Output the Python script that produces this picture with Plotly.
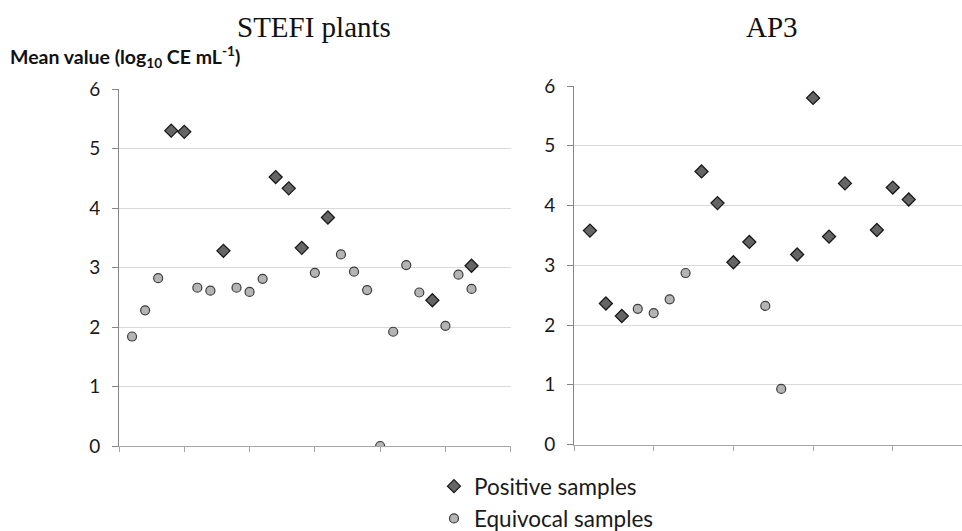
import plotly.graph_objects as go

# ---- data ----
stefi_pos_x = [4, 5, 8, 12, 13, 14, 16, 24, 27]
stefi_pos_y = [5.30, 5.28, 3.28, 4.52, 4.33, 3.33, 3.84, 2.45, 3.03]
stefi_eq_x = [1, 2, 3, 6, 7, 9, 10, 11, 15, 17, 18, 19, 20, 21, 22, 23, 25, 26, 27]
stefi_eq_y = [1.84, 2.28, 2.82, 2.66, 2.61, 2.66, 2.59, 2.81, 2.91, 3.22, 2.93, 2.62, 0.0,
              1.92, 3.04, 2.58, 2.02, 2.88, 2.64]

ap3_pos_x = [1, 2, 3, 8, 9, 10, 11, 14, 15, 16, 17, 19, 20, 21]
ap3_pos_y = [3.58, 2.36, 2.15, 4.57, 4.04, 3.05, 3.39, 3.18, 5.80, 3.48, 4.37, 3.59, 4.30, 4.10]
ap3_eq_x = [4, 5, 6, 7, 12, 13]
ap3_eq_y = [2.27, 2.20, 2.43, 2.87, 2.32, 0.93]

titles = ["STEFI plants", "AP3"]
series_names = ["Positive samples", "Equivocal samples"]
y_ticks = [0, 1, 2, 3, 4, 5, 6]

W, H = 962, 531

pos_marker = dict(symbol="diamond", size=10, color="#656565",
                  line=dict(color="#1a1a1a", width=1.3))
eq_marker = dict(symbol="circle", size=9, color="#b4b4b4",
                 line=dict(color="#3c3c3c", width=1.2))

fig = go.Figure()
fig.add_trace(go.Scatter(x=stefi_pos_x, y=stefi_pos_y, mode="markers", marker=pos_marker,
                         name=series_names[0], legendgroup="p", xaxis="x", yaxis="y"))
fig.add_trace(go.Scatter(x=stefi_eq_x, y=stefi_eq_y, mode="markers", marker=eq_marker,
                         name=series_names[1], legendgroup="e", xaxis="x", yaxis="y"))
fig.add_trace(go.Scatter(x=ap3_pos_x, y=ap3_pos_y, mode="markers", marker=pos_marker,
                         name=series_names[0], legendgroup="p", showlegend=False,
                         xaxis="x2", yaxis="y2"))
fig.add_trace(go.Scatter(x=ap3_eq_x, y=ap3_eq_y, mode="markers", marker=eq_marker,
                         name=series_names[1], legendgroup="e", showlegend=False,
                         xaxis="x2", yaxis="y2"))

SANS = "Lato, 'Open Sans', sans-serif"
tick_font = dict(family=SANS, size=19, color="#1a1a1a")

def xaxis_cfg(domain, rng):
    return dict(domain=domain, range=rng, showgrid=False, zeroline=False,
                showline=True, linecolor="#a6a6a6", linewidth=1,
                ticks="outside", ticklen=5, tickcolor="#a6a6a6",
                tick0=0, dtick=5, showticklabels=False, fixedrange=True)

def yaxis_cfg(domain, anchor):
    return dict(domain=domain, range=[0, 6], anchor=anchor,
                tickvals=y_ticks, showgrid=True, gridcolor="#d9d9d9", gridwidth=1,
                zeroline=False, showline=True, linecolor="#868686", linewidth=1,
                ticks="outside", ticklen=6, tickcolor="#868686",
                tickfont=tick_font, ticklabelstandoff=8)

fig.update_layout(
    width=W, height=H,
    margin=dict(l=0, r=0, t=0, b=0, autoexpand=False),
    paper_bgcolor="white", plot_bgcolor="white",
    xaxis=xaxis_cfg([119 / W, 510.7 / W], [0, 30]) | dict(anchor="y"),
    yaxis=yaxis_cfg([85 / H, 442 / H], "x"),
    xaxis2=xaxis_cfg([574 / W, 1.0], [0, (962 - 574) / 15.94]) | dict(anchor="y2"),
    yaxis2=yaxis_cfg([86.5 / H, 445 / H], "x2"),
    showlegend=True,
    legend=dict(x=434 / W, xanchor="left", y=1 - 465 / H, yanchor="top",
                orientation="v", bgcolor="rgba(0,0,0,0)",
                font=dict(family=SANS, size=22.5, color="#1a1a1a"),
                tracegroupgap=0, itemsizing="trace", itemwidth=30),
    annotations=[
        dict(text=titles[0], x=314 / W, y=1 - 27 / H, xref="paper", yref="paper",
             xanchor="center", yanchor="middle", showarrow=False,
             font=dict(family="Liberation Serif, 'Times New Roman', serif", size=29, color="#111")),
        dict(text=titles[1], x=772 / W, y=1 - 27 / H, xref="paper", yref="paper",
             xanchor="center", yanchor="middle", showarrow=False,
             font=dict(family="Liberation Serif, 'Times New Roman', serif", size=29, color="#111")),
        dict(text="<b>Mean value (log<sub>10</sub> CE mL<sup>-1</sup>)</b>",
             x=8 / W, y=1 - 57 / H, xref="paper", yref="paper",
             xanchor="left", yanchor="middle", showarrow=False,
             font=dict(family=SANS, size=19.5, color="#111")),
    ],
)

fig.write_html("out.html",
               config={"displayModeBar": False, "staticPlot": True},
               post_script="document.body.style.margin='0px';document.body.style.overflow='hidden';")
